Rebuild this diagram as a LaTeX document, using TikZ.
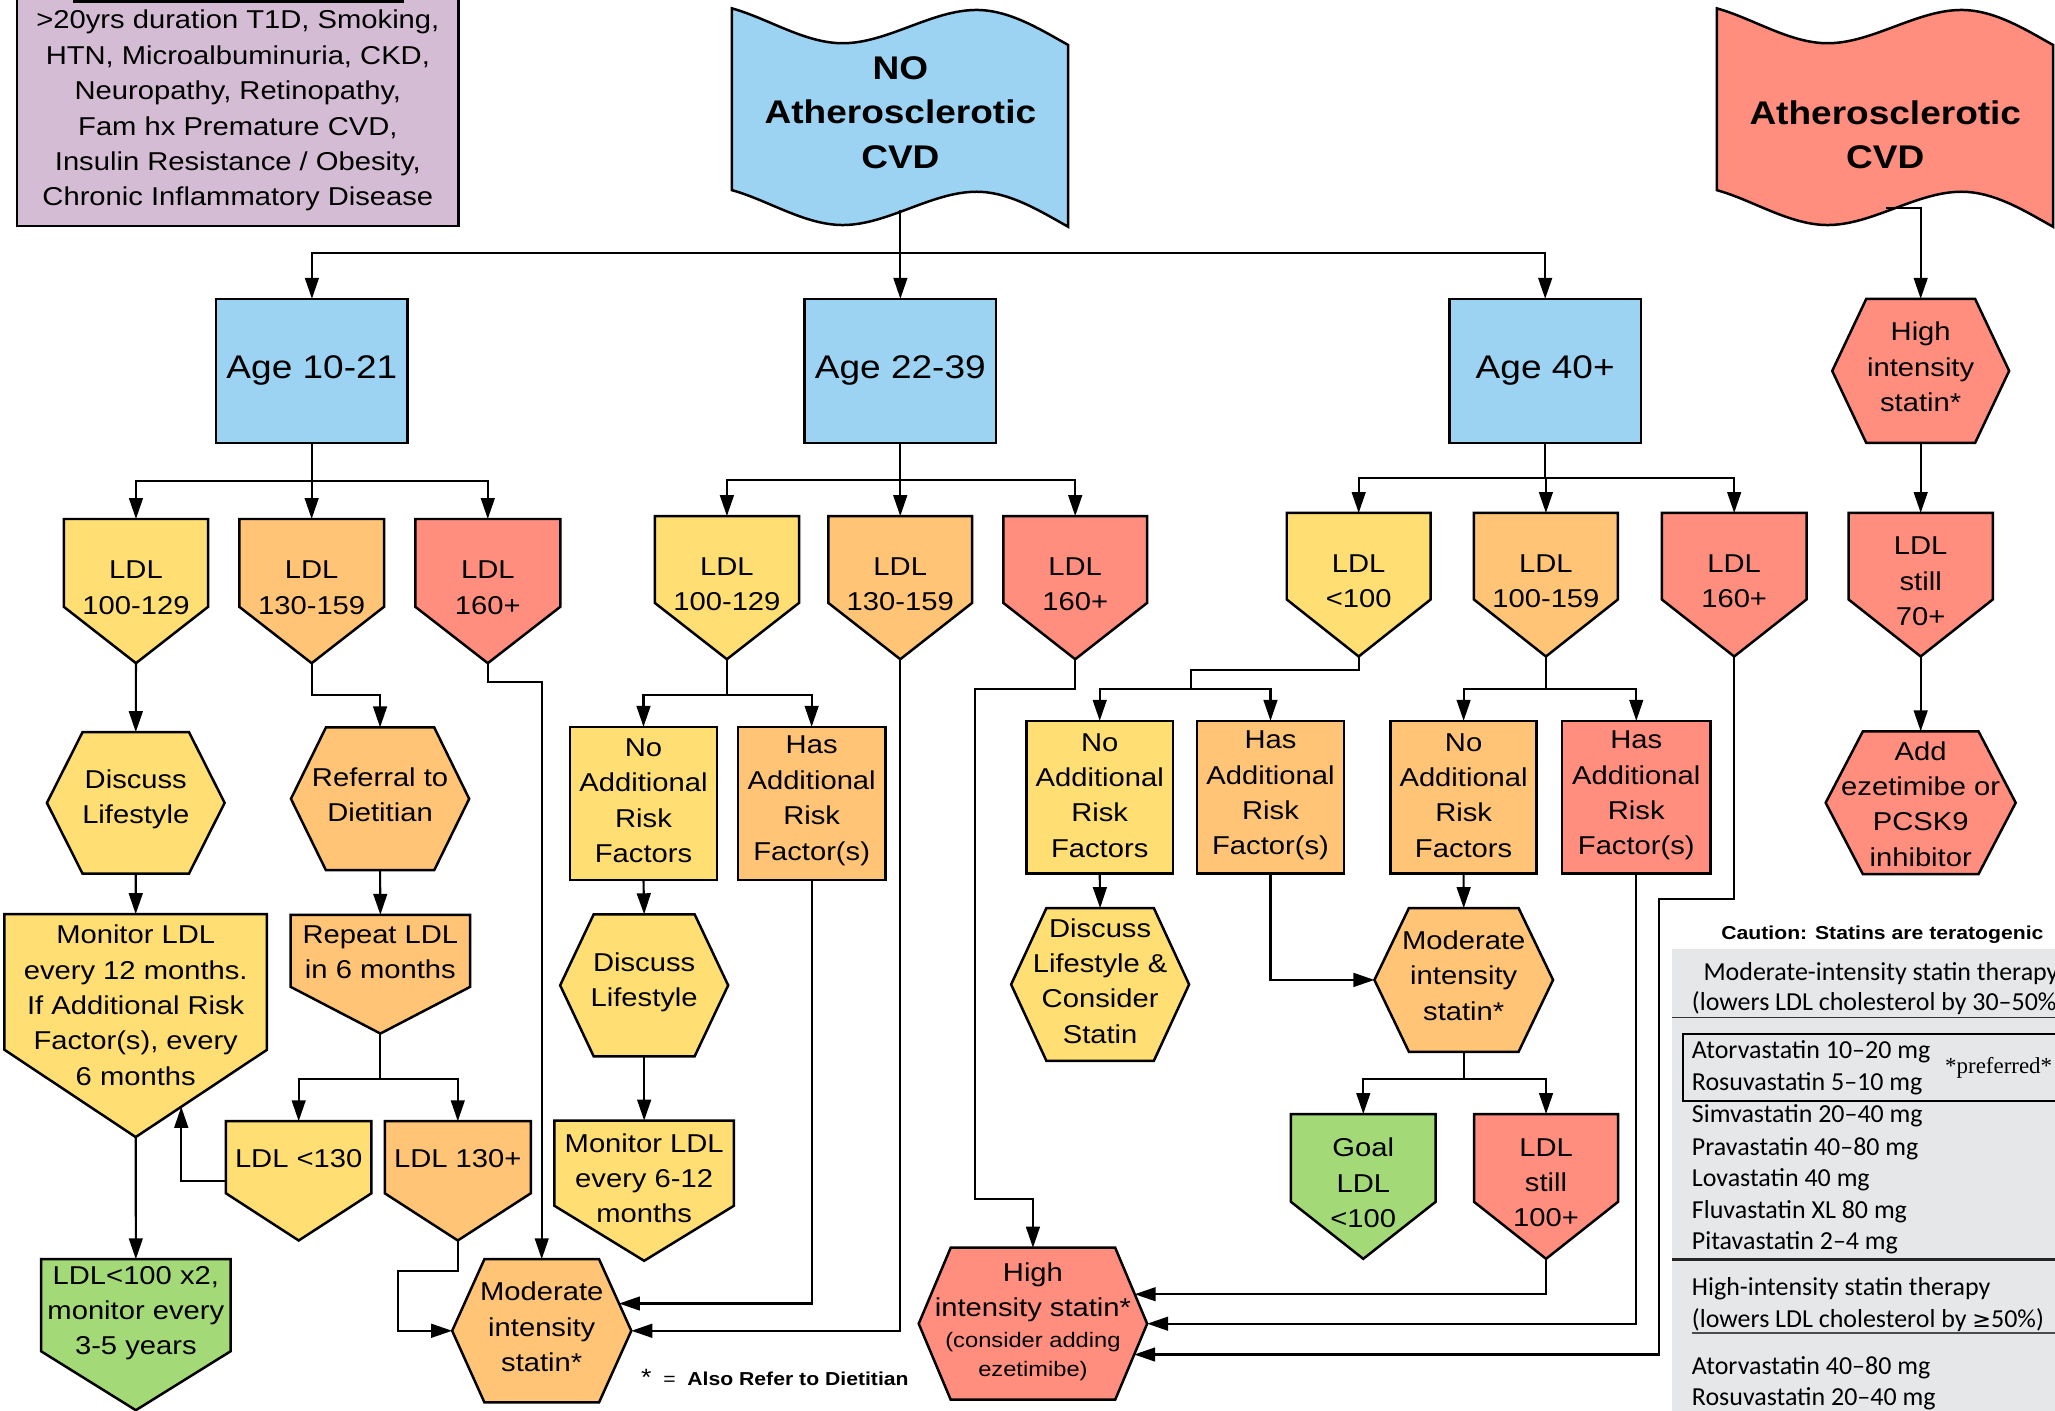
\documentclass[tikz,border=0pt]{standalone}
\usepackage{fontspec}
\setmainfont{Liberation Sans}[FakeStretch=1.13]
\newfontfamily\tabfont{Carlito}
\newfontfamily\serfont{Liberation Serif}
\newfontfamily\dejavu{DejaVu Sans}
\usetikzlibrary{arrows.meta}
\definecolor{cyel}{HTML}{FFDE73}
\definecolor{corg}{HTML}{FFC475}
\definecolor{cred}{HTML}{FF8E7E}
\definecolor{cgrn}{HTML}{A4D977}
\definecolor{cblu}{HTML}{9DD3F2}
\definecolor{cpur}{HTML}{D4BCD4}
\definecolor{cgry}{HTML}{E6E7E8}
\tikzset{
  bb/.style={rectangle, inner sep=0pt, outer sep=0pt, draw=none},
  shp/.style={draw=black, line width=1.9pt, line join=miter},
  txt/.style={align=center, inner sep=0pt, font=\fontsize{19.7}{27}\selectfont},
  ln/.style={line width=1.6pt, line join=miter},
  arr/.style={line width=1.6pt, line join=miter, -{Triangle[length=16pt,width=10.5pt]}},
  tt/.style={anchor=west, inner sep=0pt, font=\tabfont\fontsize{19.8}{24}\selectfont, text height=18.8pt, text depth=5pt},
}
\newcommand\agefont{\fontsize{25}{30}\selectfont}
% pentagon: name, left, right, top, shoulder, tip, fill, text y, text
\newcommand\MkPent[9]{%
  \pgfmathsetmacro\Pcx{(#2+#3)/2}%
  \pgfmathsetmacro\Pcy{(#4+#6)/2}%
  \pgfmathsetmacro\Pw{#3-#2}%
  \pgfmathsetmacro\Ph{#6-#4}%
  \node[bb, minimum width=\Pw pt, minimum height=\Ph pt] (#1) at (\Pcx,\Pcy) {};%
  \draw[shp, fill=#7] (#2,#4) -- (#3,#4) -- (#3,#5) -- (\Pcx,#6) -- (#2,#5) -- cycle;%
  \node[txt] (#1-t) at (\Pcx,#8) {#9};%
}
% hexagon: name, left, right, top, bottom, inset, fill, text y, text
\newcommand\MkHex[9]{%
  \pgfmathsetmacro\Pcx{(#2+#3)/2}%
  \pgfmathsetmacro\Pcy{(#4+#5)/2}%
  \pgfmathsetmacro\Pw{#3-#2}%
  \pgfmathsetmacro\Ph{#5-#4}%
  \pgfmathsetmacro\Pa{#2+#6}%
  \pgfmathsetmacro\Pb{#3-#6}%
  \node[bb, minimum width=\Pw pt, minimum height=\Ph pt] (#1) at (\Pcx,\Pcy) {};%
  \draw[shp, fill=#7] (#2,\Pcy) -- (\Pa,#4) -- (\Pb,#4) -- (#3,\Pcy) -- (\Pb,#5) -- (\Pa,#5) -- cycle;%
  \node[txt] (#1-t) at (\Pcx,#8) {#9};%
}
% rectangle: name, left, right, top, bottom, fill, text y, text
\newcommand\MkRect[8]{%
  \pgfmathsetmacro\Pcx{(#2+#3)/2}%
  \pgfmathsetmacro\Pcy{(#4+#5)/2}%
  \pgfmathsetmacro\Pw{#3-#2}%
  \pgfmathsetmacro\Ph{#5-#4}%
  \node[bb, minimum width=\Pw pt, minimum height=\Ph pt] (#1) at (\Pcx,\Pcy) {};%
  \draw[shp, fill=#6] (#2,#4) rectangle (#3,#5);%
  \node[txt] (#1-t) at (\Pcx,#7) {#8};%
}
\newcommand\WavePath{(558.5,6.4) .. controls (586,14) and (614,33) .. (643,33) .. controls (677,33) and (711,7.6) .. (745,7.6) .. controls (770,7.6) and (793,22) .. (815,34.3) -- (815,173) .. controls (793,160.7) and (770,146.3) .. (745,146.3) .. controls (711,146.3) and (677,171.7) .. (643,171.7) .. controls (614,171.7) and (586,152.7) .. (558.5,145.1) -- cycle}
\begin{document}
\begin{tikzpicture}[x=1pt, y=-1pt]
\useasboundingbox (0,0) rectangle (1568,1076);
\clip (0,0) rectangle (1568,1076);
\fill[white] (0,0) rectangle (1568,1076);

% risk factor box
\MkRect{rf}{13}{350}{-10}{172.5}{cpur}{84.5}{>20yrs duration T1D, Smoking,\\HTN, Microalbuminuria, CKD,\\Neuropathy, Retinopathy,\\Fam hx Premature CVD,\\Insulin Resistance / Obesity,\\Chronic Inflammatory Disease}
\fill (56,-1) rectangle (308,2);

% wave banners
\draw[shp, fill=cblu] \WavePath;
\node[txt, font=\fontsize{25}{34}\selectfont\bfseries] (nocvd) at (687,86) {NO\\Atherosclerotic\\CVD};
\draw[shp, fill=cred, xshift=751.5pt] \WavePath;
\node[txt, font=\fontsize{25}{34}\selectfont\bfseries] (cvd) at (1438.5,103) {Atherosclerotic\\CVD};
\coordinate (nocvd-b) at (687,160);
\coordinate (cvd-b) at (1439,159);

% age boxes
\MkRect{age1}{165}{311}{228}{338}{cblu}{283}{\agefont Age 10-21}
\MkRect{age2}{614}{760}{228}{338}{cblu}{283}{\agefont Age 22-39}
\MkRect{age3}{1106}{1252}{228}{338}{cblu}{283}{\agefont Age 40+}
\MkHex{hisA}{1398}{1533}{228}{338}{26}{cred}{280}{High\\intensity\\statin*}

% LDL level
\MkPent{l1a}{48.7}{158.8}{396}{463}{506}{cyel}{448.5}{LDL\\100-129}
\MkPent{l1b}{182.6}{293}{396}{463}{506}{corg}{448.5}{LDL\\130-159}
\MkPent{l1c}{316.9}{427.5}{396}{463}{506}{cred}{448.5}{LDL\\160+}
\MkPent{l2a}{499.6}{609.7}{393.8}{460}{503}{cyel}{446}{LDL\\100-129}
\MkPent{l2b}{632}{741.8}{393.8}{460}{503}{corg}{446}{LDL\\130-159}
\MkPent{l2c}{765.5}{875.3}{393.8}{460}{503}{cred}{446}{LDL\\160+}
\MkPent{l3a}{981.8}{1091.6}{391.4}{457.4}{500.9}{cyel}{443.5}{LDL\\<100}
\MkPent{l3b}{1124.6}{1234.5}{391.4}{457.4}{500.9}{corg}{443.5}{LDL\\100-159}
\MkPent{l3c}{1268}{1378.4}{391.4}{457.4}{500.9}{cred}{443.5}{LDL\\160+}
\MkPent{l4}{1410.5}{1520.5}{391.4}{457.4}{500.9}{cred}{443.5}{LDL\\still\\70+}

% group 1
\MkHex{dl1}{35.8}{171.4}{558.6}{666.6}{27.2}{cyel}{610}{Discuss\\Lifestyle}
\MkHex{rd}{222}{358}{555}{664}{26.7}{corg}{606.5}{Referral to\\Dietitian}
\MkPent{mon1}{3.4}{203.7}{697.5}{801}{867.6}{cyel}{767}{Monitor LDL\\every 12 months.\\If Additional Risk\\Factor(s), every\\6 months}
\MkPent{rep}{221.8}{358.7}{698}{753}{788.6}{corg}{726.5}{Repeat LDL\\in 6 months}
\MkPent{lt130}{172.4}{283.4}{855.5}{910.5}{946.5}{cyel}{884}{LDL <130}
\MkPent{ge130}{293.6}{405}{855.5}{910.5}{946.5}{corg}{884}{LDL 130+}
\MkPent{g1}{31.3}{176}{960.8}{1031}{1076}{cgrn}{1002}{LDL<100 x2,\\monitor every\\3-5 years}
\MkHex{modA}{345}{481.7}{960.8}{1070}{24.6}{corg}{1012.5}{Moderate\\intensity\\statin*}

% group 2
\MkRect{na2}{435}{547}{554.6}{671.6}{cyel}{611}{No\\Additional\\Risk\\Factors}
\MkRect{ha2}{563}{675.6}{554.6}{671.6}{corg}{611}{Has\\Additional\\Risk\\Factor(s)}
\MkHex{dl2}{427.4}{555.6}{697.6}{806}{25.6}{cyel}{749.5}{Discuss\\Lifestyle}
\MkPent{mon2}{423}{560}{855}{920}{962}{cyel}{899}{Monitor LDL\\every 6-12\\months}
\MkHex{hisB}{701}{875.3}{952}{1068}{24.4}{cred}{986}{High\\intensity statin*}
\node[txt, font=\fontsize{16}{22}\selectfont] (hisB-n) at (788.15,1035) {(consider adding\\ezetimibe)};
\node[anchor=west, inner sep=0pt, font=\fontsize{14.3}{17}\selectfont] (fn) at (489,1051) {{\fontsize{18}{18}\selectfont *}\ \ =\ \ \textbf{Also Refer to Dietitian}};

% group 3
\MkRect{na3}{783.2}{895}{550}{666.4}{cyel}{607}{No\\Additional\\Risk\\Factors}
\MkRect{ha3}{913.4}{1025.4}{550}{666.4}{corg}{607}{Has\\Additional\\Risk\\Factor(s)}
\MkHex{dl3}{771.5}{907.3}{692.9}{809.4}{26.9}{cyel}{748.5}{Discuss\\Lifestyle \&\\Consider\\Statin}
\MkRect{na4}{1061}{1172.5}{550}{666.4}{corg}{607}{No\\Additional\\Risk\\Factors}
\MkRect{ha4}{1192}{1305}{550}{666.4}{cred}{607}{Has\\Additional\\Risk\\Factor(s)}
\MkHex{modB}{1048.7}{1185}{692.9}{802.5}{26.3}{corg}{744.5}{Moderate\\intensity\\statin*}
\MkPent{goal}{985}{1095.4}{850}{917}{960.5}{cgrn}{902.5}{Goal\\LDL\\<100}
\MkPent{still}{1124.7}{1234.6}{850}{917}{960.5}{cred}{902.5}{LDL\\still\\100+}
\MkHex{add}{1393}{1538}{558}{667}{28.4}{cred}{613.5}{Add\\ezetimibe or\\PCSK9\\inhibitor}

% statin table
\node[inner sep=0pt, font=\bfseries\fontsize{14.3}{17}\selectfont] (caution) at (1436.3,713.5) {Caution: Statins are teratogenic};
\fill[cgry] (1275.5,724) rectangle (1575,1080);
\draw[line width=1.3pt, black!80] (1275.5,776.3) -- (1575,776.3);
\draw[line width=2.5pt, black!85] (1275.5,960.8) -- (1575,960.8);
\draw[line width=1pt, black!70] (1290.8,1017) -- (1575,1017);
\draw[line width=1.5pt] (1284,789.2) rectangle (1580,840.2);
\node[tt] (tb1) at (1299.6,741.4) {Moderate-intensity statin therapy};
\node[tt] (tb2) at (1290.8,764) {(lowers LDL cholesterol by 30–50\%)};
\node[tt] (tb3) at (1290.8,801) {Atorvastatin 10–20 mg};
\node[tt] (tb4) at (1290.8,825.3) {Rosuvastatin 5–10 mg};
\node[anchor=west, inner sep=0pt, font=\serfont\fontsize{17.5}{20}\selectfont] (tb5) at (1484,815) {*preferred*};
\node[tt] (tb6) at (1290.8,849.5) {Simvastatin 20–40 mg};
\node[tt] (tb7) at (1290.8,874.5) {Pravastatin 40–80 mg};
\node[tt] (tb8) at (1290.8,898.4) {Lovastatin 40 mg};
\node[tt] (tb9) at (1290.8,922.7) {Fluvastatin XL 80 mg};
\node[tt] (tb10) at (1290.8,946.4) {Pitavastatin 2–4 mg};
\node[tt] (tb11) at (1290.8,981.8) {High-intensity statin therapy};
\node[tt] (tb12) at (1290.8,1006) {(lowers LDL cholesterol by {\dejavu\fontsize{17}{20}\selectfont ≥}50\%)};
\node[tt] (tb13) at (1290.8,1041.7) {Atorvastatin 40–80 mg};
\node[tt] (tb14) at (1290.8,1065.8) {Rosuvastatin 20–40 mg};

% connectors: top
\draw[ln] (nocvd-b) -- ++(0,33) coordinate (j0);
\draw[arr] (j0) -| (age1.north);
\draw[arr] (j0) -- (age2.north);
\draw[arr] (j0) -| (age3.north);
\draw[arr] (cvd-b) -| (hisA.north);
\draw[ln] (age1.south) -- ++(0,29) coordinate (j1);
\draw[arr] (j1) -| (l1a.north);
\draw[arr] (j1) -| (l1b.north);
\draw[arr] (j1) -| (l1c.north);
\draw[ln] (age2.south) -- ++(0,28) coordinate (j2);
\draw[arr] (j2) -| (l2a.north);
\draw[arr] (j2) -| (l2b.north);
\draw[arr] (j2) -| (l2c.north);
\draw[ln] (age3.south) -- ++(0,27) coordinate (j3);
\draw[arr] (j3) -| (l3a.north);
\draw[arr] (j3) -| (l3b.north);
\draw[arr] (j3) -| (l3c.north);
\draw[arr] (hisA.south) -- (l4.north);
\draw[arr] (l4.south) -- (add.north);

% group 1 connectors
\draw[arr] (l1a.south) -- (dl1.north);
\draw[arr] (dl1.south) -- (mon1.north);
\draw[arr] (mon1.south) -- (g1.north);
\draw[arr] (l1b.south) -- ++(0,24) -| (rd.north);
\draw[arr] (rd.south) -- (rep.north);
\draw[ln] (rep.south) -- ++(0,35) coordinate (jr);
\draw[arr] (jr) -| (lt130.north);
\draw[arr] (jr) -| (ge130.north);
\coordinate (mon1-r) at (138.3,844.5);
\draw[arr] (lt130.west) -| (mon1-r);
\draw[arr] (ge130.south) -- ++(0,23.5) -- ++(-45.3,0) |- (modA.west);
\draw[arr] (l1c.south) -- ++(0,14.5) -| (modA.north);

% group 2 connectors
\draw[ln] (l2a.south) -- ++(0,27) coordinate (j2a);
\draw[arr] (j2a) -| (na2.north);
\draw[arr] (j2a) -| (ha2.north);
\draw[arr] (na2.south) -- (dl2.north);
\draw[arr] (dl2.south) -- (mon2.north);
\coordinate (modA-r1) at (472.3,994.6);
\draw[arr] (ha2.south) |- (modA-r1);
\draw[arr] (l2b.south) |- (modA.east);
\draw[arr] (l2c.south) -- ++(0,22.7) -- ++(-76.4,0) -- ++(0,388.9) -| (hisB.north);

% group 3 connectors
\draw[ln] (l3a.south) -- ++(0,10.6) -- ++(-128.1,0) -- ++(0,14.3) coordinate (j3a);
\draw[arr] (j3a) -| (na3.north);
\draw[arr] (j3a) -| (ha3.north);
\draw[arr] (na3.south) -- (dl3.north);
\draw[arr] (ha3.south) |- (modB.west);
\draw[ln] (l3b.south) -- ++(0,24.9) coordinate (j3b);
\draw[arr] (j3b) -| (na4.north);
\draw[arr] (j3b) -| (ha4.north);
\draw[arr] (na4.south) -- (modB.north);
\draw[ln] (modB.south) -- ++(0,20.5) coordinate (jm);
\draw[arr] (jm) -| (goal.north);
\draw[arr] (jm) -| (still.north);
\coordinate (hisB-r1) at (865.8,987.5);
\draw[arr] (still.south) |- (hisB-r1);
\draw[arr] (ha4.south) |- (hisB.east);
\coordinate (hisB-r3) at (865.4,1033.5);
\draw[arr] (l3c.south) -- ++(0,184.8) -- ++(-57.2,0) |- (hisB-r3);
\end{tikzpicture}
\end{document}
